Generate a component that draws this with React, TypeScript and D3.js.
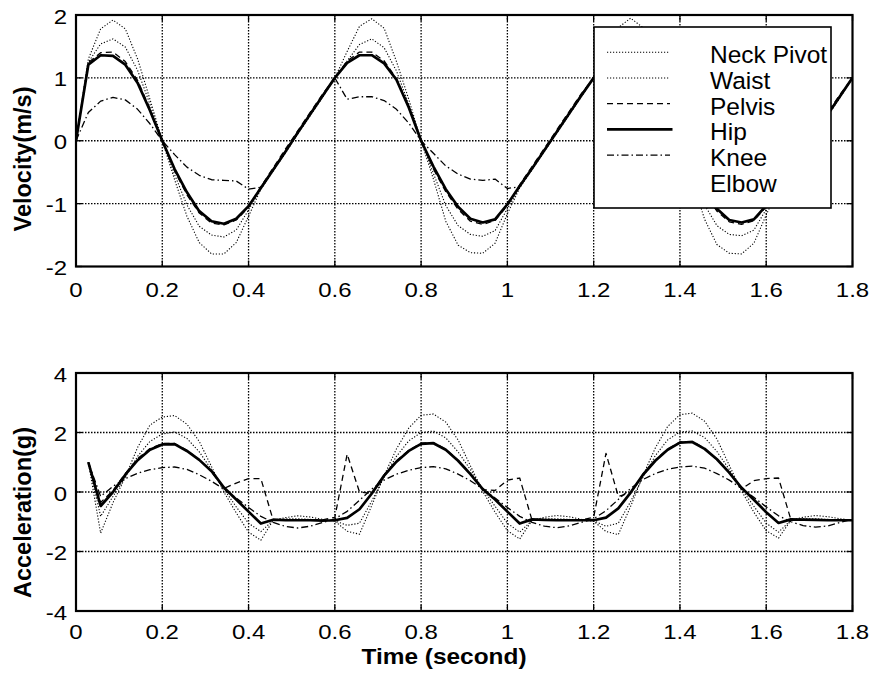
import React from 'react';
import * as d3 from 'd3';

// ---------- DATA ----------
const SAMPLE_RATE = 35; // samples per second

const velNeck = [0, 1.30, 1.78, 1.92, 1.78, 1.30, 0.66, 0.00, -0.62, -1.20, -1.62, -1.80, -1.80, -1.62, -1.20, -0.77, -0.48, -0.19, 0.11, 0.40, 0.69,
  1.00, 1.42, 1.82, 1.94, 1.79, 1.26, 0.66, 0.00, -0.61, -1.28, -1.66, -1.78, -1.79, -1.63, -1.16, -0.75, -0.46, -0.17, 0.12, 0.41, 0.70,
  1.00, 1.40, 1.80, 1.95, 1.80, 1.28, 0.67, 0.00, -0.62, -1.25, -1.65, -1.79, -1.80, -1.63, -1.18, -0.76, -0.47, -0.18, 0.11, 0.40, 0.69,
  1.00];
const velWaist = [0, 1.25, 1.54, 1.62, 1.49, 1.12, 0.58, 0.00, -0.54, -1.02, -1.36, -1.50, -1.53, -1.42, -1.10, -0.76, -0.47, -0.18, 0.12, 0.41, 0.70,
  1.00, 1.27, 1.53, 1.62, 1.48, 1.11, 0.58, 0.00, -0.52, -1.03, -1.35, -1.49, -1.52, -1.43, -1.08, -0.74, -0.45, -0.16, 0.13, 0.42, 0.71,
  1.00, 1.28, 1.55, 1.63, 1.49, 1.12, 0.59, 0.00, -0.53, -1.02, -1.35, -1.49, -1.51, -1.42, -1.09, -0.75, -0.46, -0.17, 0.12, 0.41, 0.70,
  1.00];
const velPelvis = [0, 1.24, 1.40, 1.41, 1.26, 0.96, 0.51, 0.00, -0.48, -0.86, -1.15, -1.31, -1.34, -1.26, -1.06, -0.73, -0.43, -0.13, 0.16, 0.45, 0.74,
  1.00, 1.27, 1.41, 1.41, 1.27, 0.99, 0.55, 0.00, -0.45, -0.81, -1.09, -1.28, -1.33, -1.27, -1.03, -0.70, -0.41, -0.12, 0.17, 0.46, 0.75,
  1.00, 1.27, 1.41, 1.40, 1.26, 0.97, 0.52, 0.00, -0.47, -0.84, -1.12, -1.29, -1.33, -1.27, -1.05, -0.72, -0.42, -0.13, 0.16, 0.45, 0.74,
  1.00];
const velHip = [0, 1.21, 1.36, 1.35, 1.21, 0.92, 0.48, 0.00, -0.45, -0.82, -1.12, -1.28, -1.32, -1.24, -1.04, -0.75, -0.46, -0.17, 0.13, 0.42, 0.71,
  1.00, 1.24, 1.36, 1.36, 1.23, 0.97, 0.53, 0.00, -0.41, -0.77, -1.05, -1.24, -1.30, -1.25, -1.01, -0.72, -0.44, -0.15, 0.14, 0.43, 0.72,
  1.00, 1.24, 1.37, 1.36, 1.22, 0.95, 0.50, 0.00, -0.43, -0.80, -1.08, -1.26, -1.30, -1.25, -1.03, -0.74, -0.45, -0.16, 0.13, 0.42, 0.71,
  1.00];
const velKnee = [0, 0.45, 0.63, 0.69, 0.65, 0.50, 0.27, 0.00, -0.22, -0.42, -0.55, -0.62, -0.63, -0.64, -0.77, -0.74, -0.45, -0.16, 0.14, 0.43, 0.72,
  1.00, 0.66, 0.70, 0.70, 0.64, 0.50, 0.28, 0.00, -0.20, -0.40, -0.53, -0.61, -0.63, -0.61, -0.76, -0.73, -0.44, -0.15, 0.15, 0.44, 0.73,
  1.00, 0.66, 0.70, 0.71, 0.64, 0.50, 0.28, 0.00, -0.21, -0.41, -0.54, -0.62, -0.63, -0.62, -0.77, -0.74, -0.45, -0.16, 0.14, 0.43, 0.72,
  1.00];

const accNeck = [1.00, -1.38, -0.36, 0.50, 1.50, 2.25, 2.52, 2.57, 2.28, 1.70, 0.85, 0.00, -0.70, -1.35, -1.62, -0.95, -0.86, -0.80, -0.84, -0.92, -0.98,
  -1.32, -1.42, -0.45, 0.55, 1.45, 2.15, 2.58, 2.62, 2.35, 1.75, 0.88, 0.02, -0.68, -1.30, -1.58, -0.95, -0.85, -0.79, -0.83, -0.92, -0.98,
  -1.33, -1.43, -0.48, 0.55, 1.48, 2.20, 2.60, 2.65, 2.38, 1.78, 0.90, 0.03, -0.68, -1.30, -1.55, -0.95, -0.85, -0.79, -0.83, -0.90, -0.95];
const accWaist = [1.00, -0.82, -0.15, 0.50, 1.20, 1.70, 1.95, 2.02, 1.80, 1.35, 0.75, 0.10, -0.50, -1.05, -1.33, -0.95, -0.90, -0.90, -0.92, -0.95, -0.97,
  -1.12, -1.05, -0.30, 0.50, 1.20, 1.72, 2.00, 2.05, 1.82, 1.35, 0.75, 0.10, -0.48, -1.05, -1.35, -0.95, -0.90, -0.90, -0.92, -0.95, -0.97,
  -1.15, -1.05, -0.32, 0.50, 1.22, 1.75, 2.02, 2.05, 1.83, 1.36, 0.76, 0.10, -0.48, -1.05, -1.35, -0.95, -0.90, -0.90, -0.92, -0.94, -0.95];
const accPelvis = [1.00, -0.35, 0.05, 0.62, 1.12, 1.46, 1.63, 1.63, 1.40, 1.08, 0.68, 0.12, 0.30, 0.45, 0.45, -0.95, -0.95, -0.94, -0.94, -0.94, -0.85,
  1.27, 0.00, -0.05, 0.58, 1.05, 1.40, 1.64, 1.66, 1.44, 1.07, 0.62, 0.08, 0.05, 0.40, 0.47, -0.95, -0.94, -0.94, -0.94, -0.94, -0.85,
  1.30, -0.15, -0.03, 0.60, 1.08, 1.44, 1.68, 1.70, 1.47, 1.10, 0.65, 0.10, 0.38, 0.45, 0.47, -0.93, -0.94, -0.94, -0.94, -0.94, -0.94];
const accHip = [1.00, -0.47, 0.00, 0.58, 1.07, 1.42, 1.60, 1.61, 1.38, 1.08, 0.70, 0.15, -0.25, -0.66, -1.06, -0.93, -0.95, -0.95, -0.95, -0.96, -0.95,
  -0.87, -0.58, -0.05, 0.55, 1.02, 1.38, 1.62, 1.64, 1.42, 1.05, 0.60, 0.10, -0.25, -0.66, -1.06, -0.92, -0.94, -0.95, -0.95, -0.95, -0.95,
  -0.86, -0.55, -0.02, 0.58, 1.05, 1.42, 1.66, 1.68, 1.45, 1.10, 0.65, 0.14, -0.26, -0.68, -1.04, -0.92, -0.93, -0.94, -0.95, -0.95, -0.95];
const accKnee = [1.00, -0.15, 0.19, 0.45, 0.63, 0.75, 0.82, 0.84, 0.76, 0.58, 0.36, 0.10, -0.20, -0.52, -0.82, -1.02, -1.16, -1.21, -1.15, -1.03, -0.90,
  -0.65, -0.28, 0.10, 0.40, 0.60, 0.73, 0.82, 0.85, 0.78, 0.60, 0.38, 0.10, -0.20, -0.52, -0.82, -1.02, -1.15, -1.20, -1.14, -1.02, -0.90,
  -0.63, -0.25, 0.12, 0.42, 0.62, 0.76, 0.84, 0.87, 0.80, 0.62, 0.40, 0.12, -0.18, -0.50, -0.80, -1.00, -1.13, -1.18, -1.14, -1.02, -0.92];

const timeVel = d3.range(velHip.length).map((k) => k / SAMPLE_RATE);
const timeAcc = d3.range(1, accHip.length + 1).map((k) => k / SAMPLE_RATE);

const xTicks = [0, 0.2, 0.4, 0.6, 0.8, 1.0, 1.2, 1.4, 1.6, 1.8];
const xTickLabels = ['0', '0.2', '0.4', '0.6', '0.8', '1', '1.2', '1.4', '1.6', '1.8'];
const velTicks = [-2, -1, 0, 1, 2];
const velTickLabels = ['-2', '-1', '0', '1', '2'];
const accTicks = [-4, -2, 0, 2, 4];
const accTickLabels = ['-4', '-2', '0', '2', '4'];

const legendNames = ['Neck Pivot', 'Waist', 'Pelvis', 'Hip', 'Knee', 'Elbow'];

// ---------- STYLE ----------
type Style = { width: number; dash: string | null } | null;
const styles: Record<string, Style> = {
  'Neck Pivot': { width: 1.1, dash: '1.2 1.8' },
  Waist: { width: 1.1, dash: '1.2 1.8' },
  Pelvis: { width: 1.3, dash: '6 4' },
  Hip: { width: 2.7, dash: null },
  Knee: { width: 1.3, dash: '7 3 1.5 3' },
  Elbow: null,
};

const FONT = '"Liberation Sans", Arial, Helvetica, sans-serif';
const LEFT = 76;
const RIGHT = 852.5;

const x = d3.scaleLinear().domain([0, 1.8]).range([LEFT, RIGHT]);

function HText(props: { x: number; y: number; size: number; sx: number; anchor: string; bold?: boolean; children: string }) {
  return (
    <text
      transform={`translate(${props.x},${props.y}) scale(${props.sx},1)`}
      textAnchor={props.anchor}
      fontFamily={FONT}
      fontSize={props.size}
      fontWeight={props.bold ? 'bold' : 'normal'}
      fill="#000"
    >
      {props.children}
    </text>
  );
}

function Panel(props: {
  id: string;
  top: number;
  bottom: number;
  domain: [number, number];
  yTicks: number[];
  yTickLabels: string[];
  time: number[];
  series: { name: string; values: number[] }[];
  yLabel: string;
  yLabelCenter: number;
  xLabelBaseline: number;
}) {
  const y = d3.scaleLinear().domain(props.domain).range([props.bottom, props.top]);
  const t = props.time;
  const line = d3
    .line<number>()
    .x((_, i) => x(t[i]))
    .y((d) => y(d));
  const tk = 6;
  return (
    <g>
      <defs>
        <clipPath id={`clip-${props.id}`}>
          <rect x={LEFT} y={props.top} width={RIGHT - LEFT} height={props.bottom - props.top} />
        </clipPath>
      </defs>
      <rect x={LEFT} y={props.top} width={RIGHT - LEFT} height={props.bottom - props.top} fill="#fff" />
      {/* grid */}
      {xTicks.slice(1, -1).map((v) => (
        <line key={`gx${v}`} x1={x(v)} x2={x(v)} y1={props.top} y2={props.bottom} stroke="#000" strokeWidth={1.3} strokeDasharray="1.5 1.5" />
      ))}
      {props.yTicks.slice(1, -1).map((v) => (
        <line key={`gy${v}`} x1={LEFT} x2={RIGHT} y1={y(v)} y2={y(v)} stroke="#000" strokeWidth={1.3} strokeDasharray="1.5 1.5" />
      ))}
      {/* series */}
      <g clipPath={`url(#clip-${props.id})`}>
        {props.series.map((s) => {
          const st = styles[s.name];
          if (!st) return null;
          return (
            <path
              key={s.name}
              d={line(s.values) || ''}
              fill="none"
              stroke="#000"
              strokeWidth={st.width}
              strokeDasharray={st.dash || undefined}
              strokeLinejoin="round"
            />
          );
        })}
      </g>
      {/* ticks */}
      {xTicks.map((v) => (
        <g key={`tx${v}`}>
          <line x1={x(v)} x2={x(v)} y1={props.bottom} y2={props.bottom - tk} stroke="#000" strokeWidth={1.3} />
          <line x1={x(v)} x2={x(v)} y1={props.top} y2={props.top + tk} stroke="#000" strokeWidth={1.3} />
        </g>
      ))}
      {props.yTicks.map((v) => (
        <g key={`ty${v}`}>
          <line x1={LEFT} x2={LEFT + tk} y1={y(v)} y2={y(v)} stroke="#000" strokeWidth={1.3} />
          <line x1={RIGHT} x2={RIGHT - tk} y1={y(v)} y2={y(v)} stroke="#000" strokeWidth={1.3} />
        </g>
      ))}
      {/* frame */}
      <rect x={LEFT} y={props.top} width={RIGHT - LEFT} height={props.bottom - props.top} fill="none" stroke="#000" strokeWidth={2.2} />
      {/* tick labels */}
      {xTicks.map((v, i) => (
        <HText key={`lx${v}`} x={x(v)} y={props.xLabelBaseline} size={20.5} sx={1.17} anchor="middle">
          {xTickLabels[i]}
        </HText>
      ))}
      {props.yTicks.map((v, i) => (
        <HText key={`ly${v}`} x={67} y={y(v) + 8.5} size={20.5} sx={1.17} anchor="end">
          {props.yTickLabels[i]}
        </HText>
      ))}
      <text
        transform={`translate(30.5,${props.yLabelCenter}) rotate(-90)`}
        textAnchor="middle"
        fontFamily={FONT}
        fontSize={23.5}
        fontWeight="bold"
        fill="#000"
      >
        {props.yLabel}
      </text>
    </g>
  );
}

function Legend() {
  const left = 594;
  const top = 27;
  const w = 237;
  const h = 181;
  const step = 25.7;
  return (
    <g>
      <rect x={left} y={top} width={w} height={h} fill="#fff" stroke="#000" strokeWidth={1.6} />
      {legendNames.map((name, i) => {
        const st = styles[name];
        const base = 63.3 + i * step;
        return (
          <g key={name}>
            {st && (
              <line
                x1={607}
                x2={name === 'Hip' ? 672.5 : 670}
                y1={base - 11}
                y2={base - 11}
                stroke="#000"
                strokeWidth={st.width}
                strokeDasharray={st.dash || undefined}
              />
            )}
            <text x={710} y={base} fontFamily={FONT} fontSize={24.5} fill="#000">
              {name}
            </text>
          </g>
        );
      })}
    </g>
  );
}

export default function App() {
  const velSeries = [
    { name: 'Neck Pivot', values: velNeck },
    { name: 'Waist', values: velWaist },
    { name: 'Pelvis', values: velPelvis },
    { name: 'Hip', values: velHip },
    { name: 'Knee', values: velKnee },
  ];
  const accSeries = [
    { name: 'Neck Pivot', values: accNeck },
    { name: 'Waist', values: accWaist },
    { name: 'Pelvis', values: accPelvis },
    { name: 'Hip', values: accHip },
    { name: 'Knee', values: accKnee },
  ];
  return (
    <svg
      width={873}
      height={675}
      viewBox="0 0 873 675"
      style={{ position: 'absolute', left: 0, top: 0, background: '#fff' }}
    >
      <rect x={0} y={0} width={873} height={675} fill="#fff" />
      <Panel
        id="vel"
        top={15}
        bottom={266.5}
        domain={[-2, 2]}
        yTicks={velTicks}
        yTickLabels={velTickLabels}
        time={timeVel}
        series={velSeries}
        yLabel="Velocity(m/s)"
        yLabelCenter={159}
        xLabelBaseline={296.5}
      />
      <Legend />
      <Panel
        id="acc"
        top={373}
        bottom={611}
        domain={[-4, 4]}
        yTicks={accTicks}
        yTickLabels={accTickLabels}
        time={timeAcc}
        series={accSeries}
        yLabel="Acceleration(g)"
        yLabelCenter={512.5}
        xLabelBaseline={638.5}
      />
      <HText x={444} y={664} size={22} sx={1.11} anchor="middle" bold>
        Time (second)
      </HText>
    </svg>
  );
}
